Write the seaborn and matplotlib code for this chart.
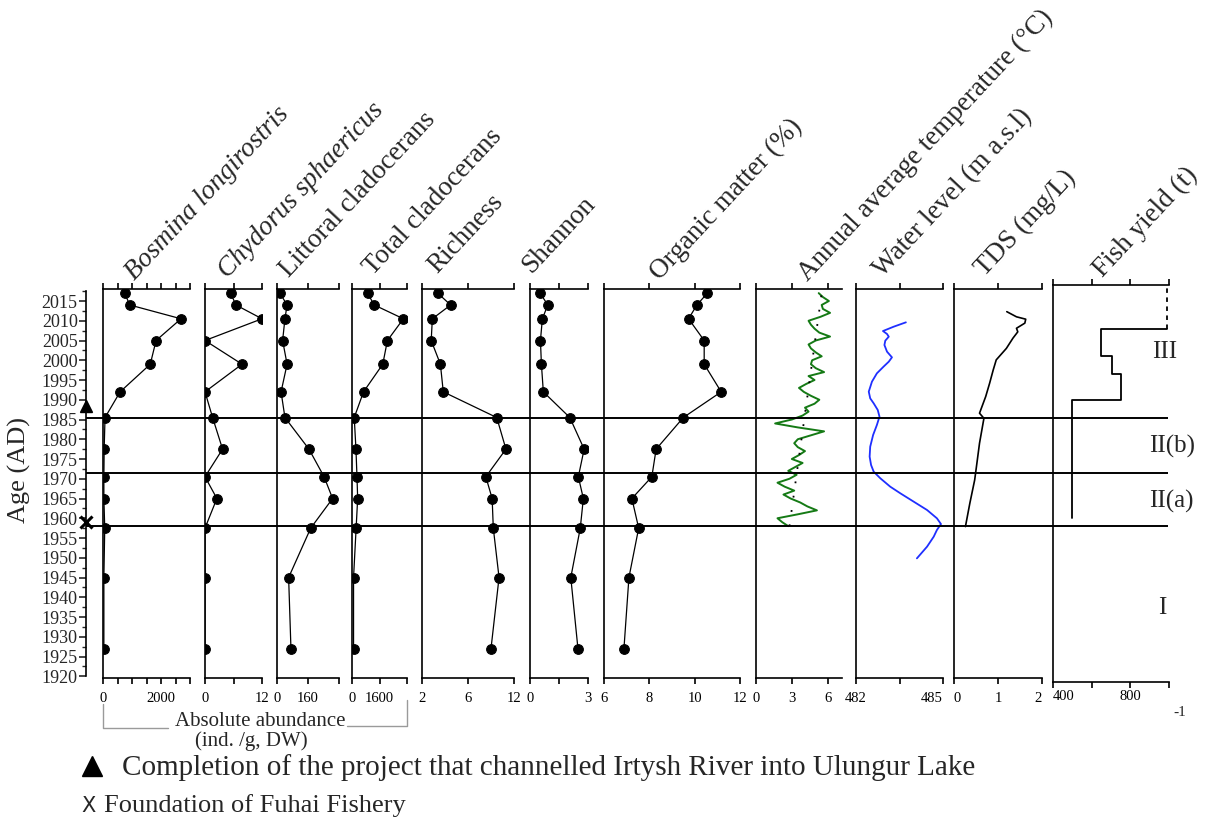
import matplotlib
matplotlib.use("Agg")
import matplotlib.pyplot as plt
import matplotlib.transforms as mtransforms
from matplotlib.lines import Line2D
from matplotlib.ticker import MultipleLocator
import seaborn as sns

# ---------------- data ----------------
# Sample ages (AD) of the sediment core intervals
core_years = [2017, 2014, 2010.5, 2005, 1999, 1992, 1985.5, 1977.5, 1970.5, 1965, 1957.5, 1945, 1927]

bosmina = [750, 920, 2690, 1830, 1630, 590, 70, 40, 30, 30, 60, 30, 30]
chydorus = [5.4, 6.5, 12.0, 0, 7.8, 0, 1.6, 3.7, 0, 2.5, 0, 0, 0]
littoral = [15, 52, 41, 29, 52, 21, 41, 165, 243, 287, 174, 60, 72]
total = [903, 1290, 2990, 2060, 1790, 670, 130, 230, 290, 330, 240, 90, 90]
richness = [3.36, 4.49, 2.9, 2.8, 3.6, 3.85, 8.5, 9.3, 7.55, 8.1, 8.2, 8.7, 8.0]
shannon = [0.52, 0.92, 0.64, 0.54, 0.59, 0.69, 2.06, 2.8, 2.5, 2.76, 2.6, 2.11, 2.48]
organic = [10.56, 10.1, 9.73, 10.42, 10.42, 11.17, 9.5, 8.3, 8.11, 7.23, 7.53, 7.1, 6.88]

# Annual average air temperature (°C), 1958-2017
temp_years = list(range(1958, 2018))
temp = [2.7, 2.2, 1.8, 3.5, 5.1, 4.3, 3.7, 2.9, 2.3, 3.2,
        2.4, 1.8, 2.8, 3.4, 2.7, 3.3, 3.9, 3.0, 3.6, 4.1,
        3.5, 3.2, 3.5, 4.6, 5.7, 3.5, 1.6, 3.0, 3.9, 4.4,
        4.1, 4.9, 5.3, 4.6, 4.0, 3.6, 4.2, 4.9, 4.4, 5.7,
        5.0, 4.6, 4.7, 5.5, 5.0, 4.6, 4.4, 5.0, 6.2, 5.3,
        4.9, 4.6, 4.4, 5.4, 6.2, 5.6, 5.5, 6.1, 5.6, 5.25]
temp_trend_years = [1958, 2017]
temp_trend = [2.8, 5.5]

# Lake water level (m a.s.l.)
level_years = [2009.6, 2008.5, 2007.4, 2006.65, 2005.97, 2004.96, 2003.86, 2002.17, 2000.74,
               1999.64, 1998.38, 1996.69, 1994.58, 1992.05, 1990.36, 1989.09, 1987.41,
               1985.72, 1983.61, 1981.08, 1978.12, 1975.59, 1973.48, 1971.79, 1970.11,
               1968.0, 1966.31, 1964.2, 1962.09, 1959.99, 1958.54, 1957.03, 1955.34,
               1952.81, 1949.85]
level = [483.72, 483.30, 482.93, 483.07, 483.13, 483.01, 482.98, 483.07, 483.24,
         483.13, 482.95, 482.72, 482.55, 482.44, 482.49, 482.61, 482.75,
         482.81, 482.72, 482.59, 482.49, 482.47, 482.52, 482.61, 482.84,
         483.18, 483.53, 483.99, 484.45, 484.79, 484.93, 484.79, 484.68,
         484.45, 484.10]

# Total dissolved solids (mg/L)
tds_years = [2012.3, 2011, 2010.4, 2009.4, 2008.1, 2007.2, 2005.6, 2003, 2000.1, 1997.5,
             1994.2, 1990.8, 1986.6, 1985.3, 1979, 1973.9, 1969.7, 1963.8, 1957.9]
tds = [1.20, 1.42, 1.63, 1.61, 1.42, 1.45, 1.34, 1.19, 0.96, 0.89,
       0.81, 0.72, 0.58, 0.68, 0.58, 0.52, 0.47, 0.36, 0.26]

# Fish yield (t) per period
fish_start = [1960, 1990, 1996.5, 2001]
fish_end = [1990, 1996.5, 2001, 2008]
fish_yield = [500, 750, 705, 648]
fish_recent = 990

# Zone boundaries and labels
zone_bounds = [1985.5, 1971.5, 1958]
zone_labels = ["III", "II(b)", "II(a)", "I"]
zone_label_years = [2002.2, 1978.3, 1964.3, 1937.3]

# Events marked on the age axis
event_years = [1988.3, 1959.0]

year_ticks = list(range(1920, 2016, 5))

# ---------------- style ----------------
sns.set_theme(style="ticks")
plt.rcParams["font.family"] = ["Liberation Serif", "DejaVu Serif"]
plt.rcParams["axes.linewidth"] = 1.2
plt.rcParams["axes.edgecolor"] = "black"

W, H = 1213, 824
fig = plt.figure(figsize=(W / 100, H / 100), dpi=100)
fig.patch.set_facecolor("white")

TOP, BOT = 289, 678            # panel extent in pixels
Y_LO, Y_HI = 1919.56, 2018.04  # ages at panel bottom / top


def px_axes(x0, x1, top=TOP, bot=BOT):
    return fig.add_axes([x0 / W, 1 - bot / H, (x1 - x0) / W, (bot - top) / H])


def style_panel(ax, xlim, ticks, labels, ylim=(Y_LO, Y_HI), pad=6):
    ax.set_xlim(*xlim)
    ax.set_ylim(*ylim)
    ax.set_facecolor("none")
    ax.spines["right"].set_visible(False)
    for s in ("left", "top", "bottom"):
        ax.spines[s].set_linewidth(1.2)
    ax.set_xticks(ticks)
    ax.set_xticklabels(labels)
    ax.tick_params(axis="x", which="both", top=True, bottom=True, direction="out",
                   length=4, width=1.2, labelsize=10.5, pad=pad, colors="black")
    ax.tick_params(axis="y", left=False, labelleft=False)
    ax.set_xlabel("")
    ax.set_ylabel("")


dot_kw = dict(color="black", marker="o", markersize=7, markeredgecolor="black",
              linewidth=0.9, orient="y", sort=False, estimator=None)

panels = [
    # values, x0, x1, xlim, ticks, labels
    (bosmina, 103, 190, (0, 3000), [0, 500, 1000, 1500, 2000, 2500, 3000],
     ["0", "", "", "", "2000", "", ""]),
    (chydorus, 205, 262, (0, 12), [0, 6, 12], ["0", "", "12"]),
    (littoral, 277, 339, (0, 320), [0, 160, 320], ["0", "160", ""]),
    (total, 352, 407, (0, 3200), [0, 1600, 3200], ["0", "1600", ""]),
    (richness, 422, 514, (2, 10), [2, 6, 10], ["2", "6", "12"]),
    (shannon, 530, 588, (0, 3), [0, 1.5, 3], ["0", "", "3"]),
    (organic, 604, 740, (6, 12), [6, 8, 10, 12], ["6", "8", "10", "12"]),
]

for vals, x0, x1, xlim, ticks, labels in panels:
    ax = px_axes(x0, x1)
    sns.lineplot(x=vals, y=core_years, ax=ax, **dot_kw)
    style_panel(ax, xlim, ticks, labels)

# Annual average temperature
ax_t = px_axes(756, 842)
sns.lineplot(x=temp, y=temp_years, ax=ax_t, color="#157a15", linewidth=1.4,
             orient="y", sort=False, estimator=None)
sns.lineplot(x=temp_trend, y=temp_trend_years, ax=ax_t, color="black", linewidth=1.3,
             linestyle=(0, (1, 7)), orient="y", sort=False, estimator=None)
style_panel(ax_t, (0, 7.2), [0, 3, 6], ["0", "3", "6"])

# Water level
ax_w = px_axes(856, 943)
sns.lineplot(x=level, y=level_years, ax=ax_w, color="#1f2fff", linewidth=1.3,
             orient="y", sort=False, estimator=None)
style_panel(ax_w, (482, 485), [482, 483.5, 485], ["482", "", "485"])
ax_w.get_xticklabels()[-1].set_ha("right")

# TDS
ax_d = px_axes(954, 1042)
sns.lineplot(x=tds, y=tds_years, ax=ax_d, color="black", linewidth=1.2,
             orient="y", sort=False, estimator=None)
style_panel(ax_d, (0, 2), [0, 1, 2], ["0", "1", "2"])
ax_d.get_xticklabels()[0].set_ha("left")
ax_d.get_xticklabels()[-1].set_ha("right")

# Fish yield (slightly taller frame)
F_TOP, F_BOT = 285, 682
yr = lambda y: 2015 - (y - 301) / 3.95
ax_f = px_axes(1053, 1169, top=F_TOP, bot=F_BOT)
fx, fy = [], []
for s, e, v in zip(fish_start, fish_end, fish_yield):
    fx += [v, v]
    fy += [s, e]
fx.append(fish_recent)
fy.append(fish_end[-1])
ax_f.plot(fx, fy, color="black", linewidth=1.3)
ax_f.plot([fish_recent, fish_recent], [fish_end[-1], yr(F_TOP)], color="black",
          linewidth=1.3, linestyle=(0, (2.5, 2.5)))
style_panel(ax_f, (400, 1000), [400, 600, 800, 1000], ["400", "", "800", ""],
            ylim=(yr(F_BOT), yr(F_TOP)), pad=2)
ax_f.get_xticklabels()[0].set_ha("left")
fig.text(1180 / W, 1 - 712 / H, "-1", fontsize=11, ha="center", va="center")

# Age axis
ax_y = px_axes(86, 100)
ax_y.set_ylim(Y_LO, Y_HI)
ax_y.set_xlim(0, 1)
ax_y.set_facecolor("none")
for s in ("right", "top", "bottom"):
    ax_y.spines[s].set_visible(False)
ax_y.spines["left"].set_bounds(1920, 2017.5)
ax_y.spines["left"].set_linewidth(1.2)
ax_y.set_xticks([])
ax_y.set_yticks(year_ticks)
ax_y.yaxis.set_minor_locator(MultipleLocator(2.5))
ax_y.tick_params(axis="y", which="major", length=5, width=1.2, labelsize=13, pad=1)
ax_y.tick_params(axis="y", which="minor", length=3, width=1.0)
ax_y.plot([0], [event_years[0]], marker="^", color="black", markersize=9, clip_on=False)
ax_y.plot([0], [event_years[1]], marker="x", color="black", markersize=8,
          markeredgewidth=2.2, clip_on=False)
fig.text(19 / W, 1 - 470 / H, "Age (AD)", fontsize=19, rotation=90,
         ha="center", va="center")

# Zone boundaries across all panels
ax_z = px_axes(86, 1168)
ax_z.set_ylim(Y_LO, Y_HI)
ax_z.set_xlim(0, 1)
ax_z.axis("off")
for b in zone_bounds:
    ax_z.axhline(b, color="black", linewidth=1.4)
blend = mtransforms.blended_transform_factory(fig.transFigure, ax_z.transData)
for lab, y, xc in zip(zone_labels, zone_label_years, [1165, 1172, 1171, 1162]):
    ax_z.text(xc / W, y, lab, transform=blend, fontsize=18, ha="center", va="center")

# Panel titles
titles = [
    ("Bosmina longirostris", 135, 281, "italic"),
    ("Chydorus sphaericus", 228, 279, "italic"),
    ("Littoral cladocerans", 289, 278, "normal"),
    ("Total cladocerans", 373, 276, "normal"),
    ("Richness", 437, 274, "normal"),
    ("Shannon", 531, 274, "normal"),
    ("Organic matter (%)", 660, 281, "normal"),
    ("Annual average temperature (°C)", 808, 282, "normal"),
    ("Water level (m a.s.l)", 883, 278, "normal"),
    ("TDS (mg/L)", 985, 277, "normal"),
    ("Fish yield (t)", 1103, 278, "normal"),
]
for txt, x, y, st in titles:
    fig.text(x / W, 1 - y / H, txt, rotation=47, rotation_mode="anchor",
             ha="left", va="baseline", fontsize=19.5, style=st)

# Bracket grouping the abundance panels
gray = "#9a9a9a"
fig.add_artist(Line2D([103 / W, 103 / W, 168 / W], [1 - 704 / H, 1 - 728 / H, 1 - 728 / H],
                      color=gray, linewidth=1.0))
fig.add_artist(Line2D([347 / W, 407 / W, 407 / W], [1 - 726 / H, 1 - 726 / H, 1 - 700 / H],
                      color=gray, linewidth=1.0))
fig.text(260 / W, 1 - 721 / H, "Absolute abundance", fontsize=15, ha="center", va="center")
fig.text(251 / W, 1 - 741 / H, "(ind. /g, DW)", fontsize=15, ha="center", va="center")

# Event legend
fig.add_artist(Line2D([92 / W], [1 - 766 / H], marker="^", color="black", markersize=14,
                      linestyle="none"))
fig.text(122 / W, 1 - 768 / H,
         "Completion of the project that channelled Irtysh River into Ulungur Lake",
         fontsize=21, ha="left", va="center")
fig.text(81 / W, 1 - 806 / H, "X", fontsize=15, family="DejaVu Sans", ha="left",
         va="center")
fig.text(104 / W, 1 - 806 / H, "Foundation of Fuhai Fishery", fontsize=19,
         ha="left", va="center")

fig.savefig("out.png", dpi=100, facecolor="white")
